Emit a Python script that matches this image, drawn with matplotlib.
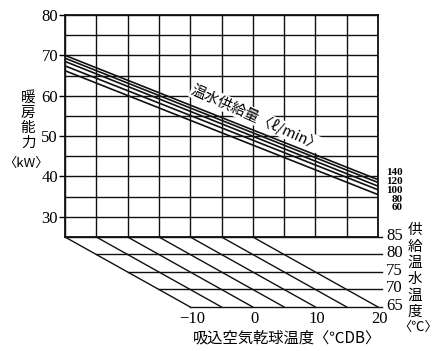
import numpy as np
import matplotlib.pyplot as plt

plt.rcParams['font.family'] = ['Liberation Serif', 'Noto Sans CJK JP', 'DejaVu Sans']
JP = ['Noto Sans CJK JP', 'DejaVu Sans']

# 後壁: 吸込空気温度(目盛) と 暖房能力
air_temp = [-10, 40]
flow = [140, 120, 100, 80, 60]
cap = [
    [70.0, 39.2],
    [69.3, 38.5],
    [68.5, 37.6],
    [67.4, 36.7],
    [66.2, 35.5],
]
wall_x = np.arange(-10, 41, 5)
kw_major = np.arange(30, 81, 10)
kw_minor = np.arange(35, 80, 10)

# 床面: 吸込空気乾球温度 x 供給温水温度
floor_air = np.arange(-10, 21, 5)
front_labels = [-10, 0, 10, 20]
water_temp = [85, 80, 75, 70, 65]

ylabel_chars = '暖房能力'
ylabel_unit = '〈kW〉'
rlabel_chars = '供給温水温度'
rlabel_unit = '〈℃〉'


def floor(t, w):
    # oblique projection of the floor plane onto the wall axes
    d = 85 - np.asarray(w, dtype=float)
    return np.asarray(t, dtype=float) + d * 1.0, 25 - d * 0.867


fig = plt.figure(figsize=(4.43, 3.51), dpi=100)
ax = fig.add_axes([65 / 443, 114 / 351, 313 / 443, 222 / 351])
ax.set_xlim(-10, 40)
ax.set_ylim(25, 80)

ax.set_xticks(wall_x)
ax.set_xticklabels([])
ax.tick_params(axis='x', length=0)
ax.set_yticks(kw_major)
ax.set_yticks(kw_minor, minor=True)
ax.set_yticklabels([str(v) for v in kw_major], fontsize=12)
ax.tick_params(axis='y', which='major', length=4, width=1, direction='out', pad=1)
ax.tick_params(axis='y', which='minor', length=0)
ax.grid(which='both', color='#111', lw=1.0)
for s in ax.spines.values():
    s.set_linewidth(1.3)
    s.set_color('#111')

# capacity lines
for c in cap:
    ax.plot(air_temp, c, color='#111', lw=1.2, zorder=3)

ax.text(20.6, 54.6, '温水供給量〈ℓ/min〉', family=JP, fontsize=10.5,
        rotation=-24, ha='center', va='center', zorder=4,
        bbox=dict(fc='white', ec='none', pad=0.5))

for i, f in enumerate(flow):
    ax.text(44.0, cap[0][1] + 1.7 - i * 2.17, str(f), ha='right', va='center',
            fontsize=8, fontweight='bold', clip_on=False)

# floor grid
for t in floor_air:
    x, y = floor([t, t], [85, 65])
    ax.plot(x, y, color='#111', lw=1.0, clip_on=False)
for w in water_temp:
    x0, y0 = floor(-10, w)
    ax.plot([x0, 40.6], [y0, y0], color='#111', lw=1.0, clip_on=False)
    ax.text(42.6, y0 + 0.3, str(w), ha='center', va='center', fontsize=12, clip_on=False)
for t in front_labels:
    x, y = floor(t, 65)
    ax.text(x + 0.3, y - 2.9, str(t).replace('-', '\u2212'), ha='center', va='center',
            fontsize=12, clip_on=False)

ax.text(25.5, 0.0, '吸込空気乾球温度〈℃DB〉', family=JP, fontsize=11,
        ha='center', va='center', clip_on=False)

# vertical axis titles, one character per line
for i, ch in enumerate(ylabel_chars):
    ax.text(-15.9, 59.4 - i * 3.72, ch, family=JP, fontsize=10.5,
            ha='center', va='center', clip_on=False)
ax.text(-16.3, 43.3, ylabel_unit, family=JP, fontsize=9.5,
        ha='center', va='center', clip_on=False)
for i, ch in enumerate(rlabel_chars):
    ax.text(45.9, 26.7 - i * 4.06, ch, family=JP, fontsize=10.5,
            ha='center', va='center', clip_on=False)
ax.text(46.4, 2.7, rlabel_unit, family=JP, fontsize=9.5,
        ha='center', va='center', clip_on=False)

fig.savefig('out.png', dpi=100)
